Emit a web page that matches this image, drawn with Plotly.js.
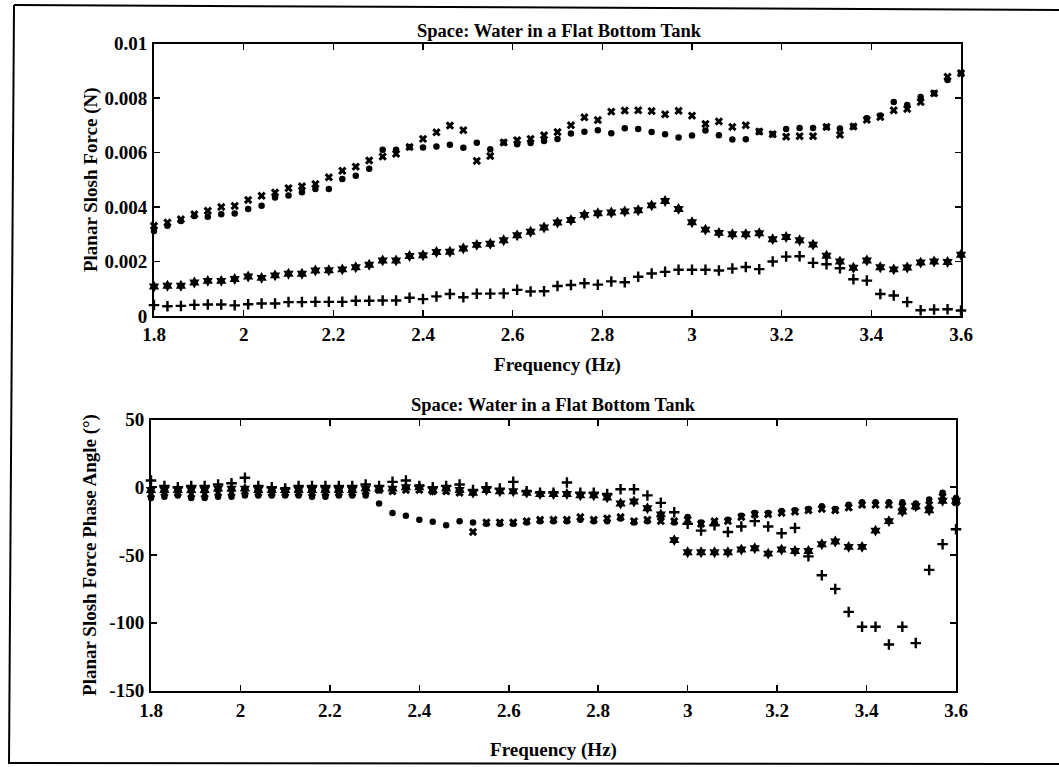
<!DOCTYPE html>
<html>
<head>
<meta charset="utf-8">
<script src="https://cdn.plot.ly/plotly-3.0.1.min.js"></script>
<style>html,body{margin:0;padding:0;background:#fff;}#chart{width:1059px;height:767px;}</style>
</head>
<body>
<div id="chart"></div>
<script>
// Frequency (Hz)
const freq = [1.8,1.83,1.86,1.89,1.92,1.95,1.98,2.01,2.04,2.07,2.1,2.13,2.16,2.19,2.22,2.25,2.28,2.31,2.34,2.37,2.4,2.43,2.46,2.49,2.52,2.55,2.58,2.61,2.64,2.67,2.7,2.73,2.76,2.79,2.82,2.85,2.88,2.91,2.94,2.97,3.0,3.03,3.06,3.09,3.12,3.15,3.18,3.21,3.24,3.27,3.3,3.33,3.36,3.39,3.42,3.45,3.48,3.51,3.54,3.57,3.6];

// Planar slosh force (N)
const forceDot = [0.00312,0.00331,0.00349,0.00367,0.00364,0.00373,0.00376,0.00393,0.00405,0.00435,0.00442,0.00454,0.00466,0.00466,0.00503,0.00515,0.00540,0.00610,0.00610,0.00620,0.00618,0.00622,0.00628,0.00617,0.00636,0.00612,0.00637,0.00630,0.00635,0.00642,0.00650,0.00670,0.00676,0.00682,0.00671,0.00689,0.00686,0.00675,0.00667,0.00655,0.00662,0.00681,0.00663,0.00648,0.00649,0.00677,0.00667,0.00686,0.00690,0.00690,0.00694,0.00688,0.00695,0.00726,0.00736,0.00785,0.00774,0.00804,0.00817,0.00866,0.00891];
const forceX = [0.00331,0.00343,0.00355,0.00373,0.00386,0.00400,0.00404,0.00426,0.00441,0.00453,0.00469,0.00476,0.00484,0.00509,0.00533,0.00548,0.00571,0.00585,0.00595,0.00620,0.00650,0.00674,0.00699,0.00682,0.00569,0.00587,0.00637,0.00645,0.00650,0.00663,0.00675,0.00700,0.00729,0.00719,0.00750,0.00754,0.00755,0.00752,0.00740,0.00753,0.00735,0.00705,0.00714,0.00694,0.00700,0.00677,0.00667,0.00658,0.00660,0.00660,0.00694,0.00665,0.00695,0.00720,0.00730,0.00755,0.00760,0.00785,0.00817,0.00878,0.00891];
const forceStar = [0.00108,0.00111,0.00111,0.00123,0.00129,0.00129,0.00136,0.00145,0.00140,0.00149,0.00155,0.00155,0.00167,0.00168,0.00171,0.00179,0.00188,0.00204,0.00204,0.00220,0.00223,0.00235,0.00236,0.00248,0.00261,0.00265,0.00278,0.00296,0.00309,0.00325,0.00343,0.00352,0.00371,0.00377,0.00380,0.00384,0.00388,0.00406,0.00422,0.00393,0.00344,0.00317,0.00305,0.00300,0.00300,0.00304,0.00282,0.00290,0.00278,0.00262,0.00221,0.00200,0.00177,0.00204,0.00179,0.00171,0.00178,0.00196,0.00200,0.00198,0.00225];
const forcePlus = [0.00040,0.00036,0.00037,0.00041,0.00042,0.00042,0.00039,0.00043,0.00046,0.00046,0.00051,0.00051,0.00052,0.00052,0.00052,0.00056,0.00056,0.00057,0.00057,0.00067,0.00062,0.00072,0.00081,0.00069,0.00082,0.00082,0.00083,0.00096,0.00090,0.00091,0.00110,0.00114,0.00120,0.00115,0.00127,0.00124,0.00144,0.00156,0.00162,0.00170,0.00170,0.00170,0.00167,0.00174,0.00180,0.00172,0.00200,0.00218,0.00219,0.00195,0.00190,0.00175,0.00135,0.00130,0.00081,0.00075,0.00051,0.00021,0.00024,0.00025,0.00020];

// Planar slosh force phase angle (degrees)
const phaseDot = [-8,-7,-6,-8,-8,-7,-7,-6,-6,-6,-6,-6,-7,-7,-6,-6,-6,-12,-19,-21,-24,-25.5,-28,-25,-26,-27,-27,-27,-26,-25,-25,-25,-24,-25,-25,-23,-26,-25,-23,-26,-22,-26,-26,-24,-21,-19,-19,-17.5,-17,-16,-14,-16,-13,-11,-11,-11,-11,-12,-9,-4,-8];
const phaseX = [-5,-4,-4,-5,-5,-4,-4,-3,-4,-4,-4,-4,-4,-4,-4,-4,-3,-2,-3,-2,-2,-3,-3,-4,-33,-26,-26,-26,-25,-24,-24,-24,-22,-24,-23,-22,-25,-24,-25,-25,-24,-27,-25,-25,-22,-20,-20,-19,-18,-17,-16,-17,-15,-13,-13,-13,-14,-14,-13,-7,-11];
const phaseStar = [-2,-2,-2,-2,-2,-1,-1,-1,-2,-2,-2,-2,-2,-2,-2,-2,-1,-1,-1,0,0,-2,-1,-2,-4,-2,-3,-3,-4,-5,-5,-5,-6,-6,-7.5,-12,-10.5,-15.5,-20,-39,-48,-48,-48,-48,-46,-45,-49,-46,-47,-47,-42,-40,-44,-44,-32,-25,-18,-14,-17,-10,-10];
const phasePlus = [5,1,0,1,1,2,3,7,1,0,-1,1,1,1,1,1,2,1,4,5,1,0,1,2,-2,0,-1,4,-3,-4,-4,3.5,-4,-4,-5,-1.5,-1.5,-6,-11.5,-18.5,-27,-32,-28,-33,-29,-25,-29,-34,-30,-51,-65,-75,-92,-103,-103,-116,-103,-115,-61,-42,-31];

// Tick labels
const freqTicks = [1.8,2,2.2,2.4,2.6,2.8,3,3.2,3.4,3.6];
const freqTickText = ['1.8','2','2.2','2.4','2.6','2.8','3','3.2','3.4','3.6'];
const forceTicks = [0,0.002,0.004,0.006,0.008,0.01];
const forceTickText = ['0','0.002','0.004','0.006','0.008','0.01'];
const phaseTicks = [-150,-100,-50,0,50];
const phaseTickText = ['-150','-100','-50','0','50'];

const titleText = 'Space: Water in a Flat Bottom Tank';

const W = 1059, H = 767;
const px = v => v / W;
const py = v => 1 - v / H;

const mDot  = {symbol:'circle', size:6.5, color:'#000'};
const mX    = {symbol:'x', size:7.5, color:'#000'};
const mStar = {symbol:'hexagram', size:9, color:'#000'};
const mPlus = {symbol:'cross-thin-open', size:7.5, color:'#000', line:{color:'#000', width:2.4}};

function tr(y, m, xa, ya, name) {
  return {x: freq, y: y, type:'scatter', mode:'markers', marker:m, xaxis:xa, yaxis:ya, name:name, cliponaxis:false, showlegend:false, hoverinfo:'skip'};
}

const data = [
  tr(forcePlus, mPlus, 'x', 'y', 'force +'),
  tr(forceStar, mStar, 'x', 'y', 'force *'),
  tr(forceX, mX, 'x', 'y', 'force x'),
  tr(forceDot, mDot, 'x', 'y', 'force o'),
  tr(phasePlus, mPlus, 'x2', 'y2', 'phase +'),
  tr(phaseStar, mStar, 'x2', 'y2', 'phase *'),
  tr(phaseX, mX, 'x2', 'y2', 'phase x'),
  tr(phaseDot, mDot, 'x2', 'y2', 'phase o')
];

const fontBase = {family:'"Liberation Serif", "Times New Roman", serif', size:19, color:'#000', weight:'bold'};

function axisCommon() {
  return {ticks:'inside', ticklen:6, tickwidth:1.6, tickcolor:'#000', showline:true, linewidth:2, linecolor:'#000',
          mirror:'ticks', showgrid:false, zeroline:false, tickfont:fontBase, fixedrange:true};
}

const layout = {
  width: W, height: H,
  margin: {l:0, r:0, t:0, b:0},
  paper_bgcolor:'#fff', plot_bgcolor:'#fff',
  font: fontBase,
  showlegend:false,
  title: {text: titleText, x: px(559), y: py(31), xref:'paper', yref:'paper', xanchor:'center', yanchor:'middle',
          font: Object.assign({}, fontBase, {size:18.5})},
  xaxis: Object.assign(axisCommon(), {domain:[px(154), px(961)], range:[1.8,3.6], anchor:'y',
          tickvals:freqTicks, ticktext:freqTickText, ticklabelstandoff:0,
          title:{text:'Frequency (Hz)', standoff:14, font:fontBase}}),
  yaxis: Object.assign(axisCommon(), {domain:[py(316), py(43.5)], range:[0,0.01], anchor:'x',
          tickvals:forceTicks, ticktext:forceTickText, ticklabelstandoff:1,
          title:{text:'Planar Slosh Force (N)', standoff:2, font:fontBase}}),
  xaxis2: Object.assign(axisCommon(), {domain:[px(151), px(956)], range:[1.8,3.6], anchor:'y2',
          tickvals:freqTicks, ticktext:freqTickText, ticklabelstandoff:2,
          title:{text:'Frequency (Hz)', standoff:22, font:fontBase}}),
  yaxis2: Object.assign(axisCommon(), {domain:[py(690.5), py(419.5)], range:[-150,50], anchor:'x2',
          tickvals:phaseTicks, ticktext:phaseTickText, ticklabelstandoff:1,
          title:{text:'Planar Slosh Force Phase Angle (°)', standoff:8, font:fontBase}}),
  annotations: [
    {text: titleText, xref:'paper', yref:'paper', x: px(554), y: py(405), xanchor:'center', yanchor:'middle',
     showarrow:false, font: Object.assign({}, fontBase, {size:18.5})}
  ],
  shapes: [
    {type:'line', xref:'paper', yref:'paper', x0:px(14), y0:py(5), x1:px(1059), y1:py(10), line:{color:'#000', width:2}},
    {type:'line', xref:'paper', yref:'paper', x0:px(14), y0:py(5), x1:px(9), y1:py(764), line:{color:'#000', width:2}},
    {type:'line', xref:'paper', yref:'paper', x0:px(9), y0:py(763), x1:px(1059), y1:py(764), line:{color:'#000', width:2}}
  ]
};

Plotly.newPlot('chart', data, layout, {displayModeBar:false, staticPlot:true});
</script>
</body>
</html>
